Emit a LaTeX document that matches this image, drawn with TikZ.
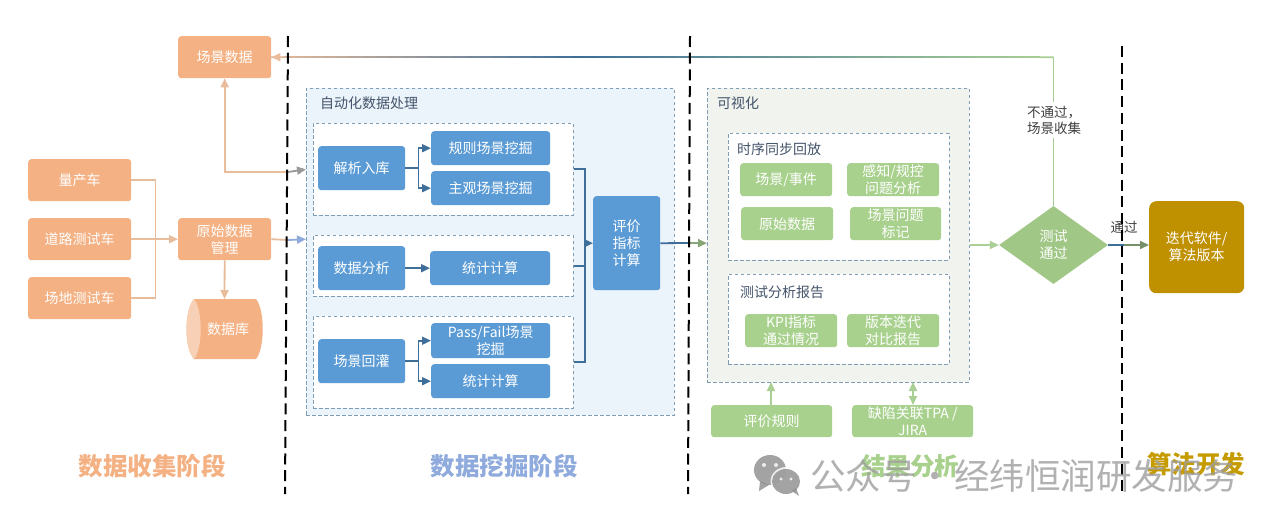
\documentclass[tikz,border=0pt]{standalone}
\usepackage{fontspec}
\setmainfont{Noto Sans CJK SC}
\usetikzlibrary{arrows.meta,calc,shapes.geometric,positioning}
\definecolor{orangebox}{HTML}{F4B183}
\definecolor{orangeline}{HTML}{E9BC9C}
\definecolor{bluebox}{HTML}{5B9BD5}
\definecolor{blueline}{HTML}{3F6F99}
\definecolor{greenbox}{HTML}{A9D18E}
\definecolor{greenline}{HTML}{A9CF94}
\definecolor{goldbox}{HTML}{BF9000}
\definecolor{panelblue}{HTML}{EBF3FB}
\definecolor{panelgrey}{HTML}{F0F3EE}
\definecolor{dashblue}{HTML}{7F9DB5}
\definecolor{labelink}{HTML}{44546A}
\definecolor{stageblue}{HTML}{8FAADC}
\tikzset{
  x=1pt,y=-1pt,
  every node/.style={font=\fontsize{14}{17}\selectfont,inner sep=0pt,align=center},
  tip/.style={-{Triangle[length=9pt,width=8pt]}},
  tips/.style={{Triangle[length=9pt,width=8pt]}-{Triangle[length=9pt,width=8pt]}},
  box/.style={rounded corners=3pt,text=white},
  obox/.style={box,fill=orangebox},
  bbox/.style={box,fill=bluebox},
  gbox/.style={box,fill=greenbox},
  zone/.style={draw=dashblue,dash pattern=on 3.5pt off 2.5pt,line width=0.7pt},
  phase/.style={draw=black,line width=2pt,dash pattern=on 11pt off 5.7pt},
  ol/.style={draw=orangeline,line width=1.8pt},
  bl/.style={draw=blueline,line width=1.8pt},
  gl/.style={draw=greenline,line width=1.8pt},
  stage/.style={font=\fontsize{24.5}{28}\selectfont\bfseries},
  caption/.style={text=labelink,anchor=west},
  remark/.style={font=\fontsize{13.5}{16}\selectfont,text=black!75},
}
% rectangle given by its pixel corners
\newcommand{\pbox}[7][]{\node[#2,#1,minimum width=#5pt-#3pt,minimum height=#6pt-#4pt,anchor=north west] (#7) at (#3,#4)}
\begin{document}
\begin{tikzpicture}
\useasboundingbox (0,0) rectangle (1280,525);
\fill[white] (0,0) rectangle (1280,525);

% stage separators
\coordinate (p1a) at (288,36); \coordinate (p1b) at (285,494);
\coordinate (p2a) at (690,36); \coordinate (p2b) at (688,494);
\coordinate (p3a) at (1122,46); \coordinate (p3b) at (1122,494);

% panels
\node[zone,fill=panelblue,anchor=north west,minimum width=368pt,minimum height=327pt] (auto) at (306,88) {};
\node[zone,fill=white,anchor=north west,minimum width=260pt,minimum height=92pt] (z1) at (313,123) {};
\node[zone,fill=white,anchor=north west,minimum width=260pt,minimum height=61pt] (z2) at (313,235) {};
\node[zone,fill=white,anchor=north west,minimum width=260pt,minimum height=92pt] (z3) at (313,316) {};
\node[zone,fill=panelgrey,anchor=north west,minimum width=262pt,minimum height=294pt] (vis) at (707,88) {};
\node[zone,fill=white,anchor=north west,minimum width=221pt,minimum height=127pt] (z4) at (728,133) {};
\node[zone,fill=white,anchor=north west,minimum width=221pt,minimum height=90pt] (z5) at (728,274) {};

\node[caption] (tauto) at (320,103) {自动化数据处理};
\node[caption] (tvis) at (717,103) {可视化};
\node[caption] (tz4) at (737,149) {时序同步回放};
\node[caption] (tz5) at (740,292) {测试分析报告};

% data collection
\pbox{obox}{178}{36}{271}{78}{scene}{场景数据};
\pbox{obox}{28}{159}{131}{201}{car1}{量产车};
\pbox{obox}{28}{218}{131}{260}{car2}{道路测试车};
\pbox{obox}{28}{277}{131}{319}{car3}{场地测试车};
\pbox{obox}{178}{218}{271}{260}{raw}{原始数据\\管理};

% database drum
\node[anchor=center,minimum width=77pt,minimum height=60pt] (db) at (224.5,329) {};
\fill[orangebox] (194,299) -- (256,299) .. controls (265,310) and (265,348) .. (256,359) -- (194,359) .. controls (184,348) and (184,310) .. (194,299) -- cycle;
\fill[orangebox!60!white] (194,299) .. controls (184,310) and (184,348) .. (194,359) .. controls (203,348) and (203,310) .. (194,299) -- cycle;
\node[text=white] (dbt) at (228,329) {数据库};

% data mining
\pbox{bbox}{318}{146}{405}{190}{parse}{解析入库};
\pbox{bbox}{431}{131}{550}{165}{rule}{规则场景挖掘};
\pbox{bbox}{431}{171}{550}{205}{subj}{主观场景挖掘};
\pbox{bbox}{318}{246}{405}{290}{ana}{数据分析};
\pbox{bbox}{430}{251}{550}{285}{stat1}{统计计算};
\pbox{bbox}{318}{339}{405}{383}{replay}{场景回灌};
\pbox{bbox}{431}{323}{550}{358}{pf}{Pass/Fail场景\\挖掘};
\pbox{bbox}{431}{364}{550}{398}{stat2}{统计计算};
\pbox{bbox}{593}{196}{660}{290}{kpi}{评价\\指标\\计算};

% analysis
\pbox{gbox}{740}{163}{832}{196}{g1}{场景/事件};
\pbox{gbox}{847}{163}{939}{196}{g2}{感知/规控\\问题分析};
\pbox{gbox}{741}{207}{833}{240}{g3}{原始数据};
\pbox{gbox}{850}{207}{941}{240}{g4}{场景问题\\标记};
\pbox{gbox}{745}{314}{837}{347}{g5}{KPI指标\\通过情况};
\pbox{gbox}{847}{314}{939}{347}{g6}{版本迭代\\对比报告};
\pbox{gbox}{711}{405}{832}{437}{evalr}{评价规则};
\pbox{gbox}{852}{405}{973}{437}{jira}{缺陷关联TPA /\\JIRA};
\node[diamond,aspect=1.4,fill=greenbox!95!black,text=white,minimum width=109pt,minimum height=78pt] (pass) at (1053.5,245) {测试\\通过};
\pbox{box,fill=goldbox,rounded corners=7pt}{1149}{201}{1244}{293}{rel}{迭代软件/\\算法版本};

% feeds into the raw data store
\draw[ol] (car1.east) -- ++(24,0) coordinate (j1) |- (car3.east);
\draw[ol,tip] (car2.east) -- (raw.west);
\draw[ol,tip] (raw.south) -- (224.5,299);
\draw[ol,{Triangle[length=9pt,width=8pt]}-] (scene.south) |- (288,172);
\draw[draw=black!40,line width=1.8pt,tip] (288,172) -- (z1.west -| auto.west);
\draw[ol] (raw.east) -- (288,240);
\draw[draw=stageblue,line width=1.8pt,tip] (288,240) -- (auto.west |- raw.east);

% mining flows
\draw[bl,tip] (parse.east) -- ++(13,0) |- (rule.west);
\draw[bl,tip] (parse.east) -- ++(13,0) |- (subj.west);
\draw[bl,tip] (ana.east) -- (stat1.west);
\draw[bl,tip] (replay.east) -- ++(13,0) |- (pf.west);
\draw[bl,tip] (replay.east) -- ++(13,0) |- (stat2.west);
\draw[bl] (z1.east) -- ++(11,0) coordinate (j2) -- (j2 |- z3.east) -- (z3.east);
\draw[bl] (z2.east) -- (j2 |- z2.east);
\draw[bl,tip] (j2 |- kpi.west) -- (kpi.west);

% result flows
\draw[bl] (kpi.east) -- (690,243);
\draw[draw=greenline!80!black,line width=1.8pt,tip] (690,243) -- (vis.west |- kpi.east);
\draw[gl,tip] (771,405) -- (771,382);
\draw[gl,tips] (913,382) -- (913,405);
\draw[gl,tip] (vis.east |- pass.west) -- (pass.west);

% rejected results return to the scene pool, shifting colour on the way
\coordinate (corner) at (pass.north |- scene.east);
\draw[gl] (pass.north) -- (corner);
\foreach \i in {0,...,59}{
  \pgfmathsetmacro{\ta}{\i/60}
  \pgfmathsetmacro{\tb}{(\i+1.1)/60}
  \ifnum\i<36
    \pgfmathtruncatemacro{\mixv}{100-\i*100/36}
    \colorlet{segc}{greenline!\mixv!blueline}
  \else
    \pgfmathtruncatemacro{\mixo}{(\i-36)*100/24}
    \colorlet{segc}{orangeline!\mixo!blueline}
  \fi
  \draw[draw=segc,line width=1.6pt] ($(corner)!\ta!(scene.east)$) -- ($(corner)!\tb!(scene.east)$);
}
\draw[draw=orangeline,line width=1.6pt,tip] ($(scene.east)+(10,0)$) -- (scene.east);
\node[remark,fill=white,align=left,inner ysep=4pt] (nopass) at (1054,120) {不通过，\\场景收集};
\coordinate (gomid) at (1124,245);
\draw[draw=blueline,line width=1.8pt] (pass.east) -- (gomid);
\draw[draw=greenline!70!black,line width=1.8pt,tip] (gomid) -- (rel.west |- gomid);
\node[remark] (go) at (1124,227) {通过};

% stage separators on top of the flows
\draw[phase] (p1a) -- (p1b);
\draw[phase] (p2a) -- (p2b);
\draw[phase] (p3a) -- (p3b);

% stage titles
\node[stage,text=orangebox] (s1) at (152,466) {数据收集阶段};
\node[stage,text=stageblue] (s2) at (504,466) {数据挖掘阶段};
\node[stage,text=greenbox] (s3) at (910,466) {结果分析};
\node[stage,text=goldbox!90!yellow] (s4) at (1196,464) {算法开发};

% account mark
\begin{scope}[opacity=0.8]
  \fill[black!45] (770,470) ellipse (16pt and 15pt);
  \fill[black!45] (760,481) -- (759,491) -- (769,485) -- cycle;
  \fill[white] (786,481.5) ellipse (15.5pt and 14.5pt);
  \fill[black!45] (786,481.5) ellipse (14pt and 12.5pt);
  \fill[black!45] (792,491) -- (799,496) -- (796,488) -- cycle;
  \fill[white] (764,465) circle (2pt) (776,465) circle (2pt) (781,479) circle (1.7pt) (791,479) circle (1.7pt);
\end{scope}
\node[anchor=west,font=\fontsize{35.5}{40}\selectfont,text=black!38,opacity=0.8] (wm) at (810,476) {公众号\kern1pt·\kern1pt经纬恒润研发服务};
\end{tikzpicture}
\end{document}
